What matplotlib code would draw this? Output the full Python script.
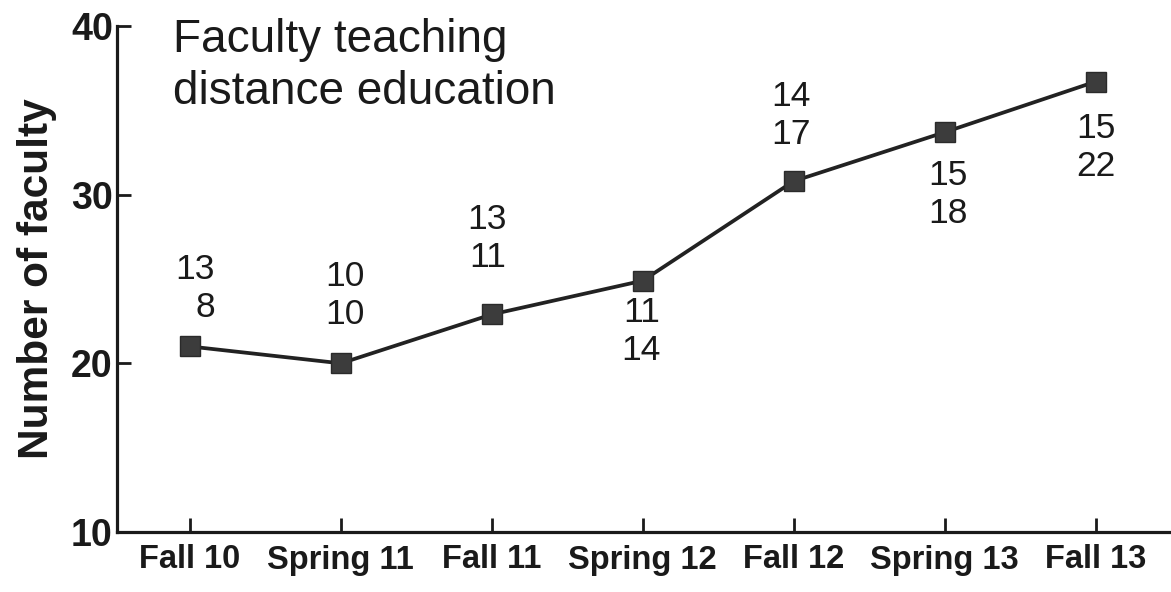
import matplotlib
matplotlib.use('Agg')
import matplotlib.pyplot as plt

plt.rcParams['font.family'] = ['Liberation Sans', 'DejaVu Sans']

terms = ['Fall 10', 'Spring 11', 'Fall 11', 'Spring 12', 'Fall 12', 'Spring 13', 'Fall 13']
faculty = [21, 20, 22.9, 24.9, 30.8, 33.7, 36.7]
top_numbers = [13, 10, 13, 11, 14, 15, 15]
bottom_numbers = [8, 10, 11, 14, 17, 18, 22]

# label offsets from each marker, in pixels (dx, dy up)
label_offsets = [(5, 58), (4, 68), (-5, 76), (-2, -51), (-3, 66), (3, -62), (0, -66)]

px = 0.72  # points per pixel at dpi 100

fig = plt.figure(figsize=(11.71, 5.92), dpi=100)
ax = fig.add_axes([117 / 1171, 60 / 592, 1 - 117 / 1171, 506 / 592])

x = list(range(len(terms)))
ax.plot(x, faculty, '-', color='#222222', linewidth=2.7, marker='s',
        markersize=15, markerfacecolor='#3c3c3c', markeredgecolor='#2a2a2a',
        clip_on=False, zorder=3)

for i, (t, b) in enumerate(zip(top_numbers, bottom_numbers)):
    dx, dy = label_offsets[i]
    ax.annotate(f'{t}\n{b}', (x[i], faculty[i]), xytext=(dx * px, dy * px),
                textcoords='offset points', ha='center', va='center',
                multialignment='right', fontsize=25.5, color='#1a1a1a',
                linespacing=1.2)

ax.set_xlim(-0.483, 6.5)
ax.set_ylim(10, 40)
ax.set_yticks([10, 20, 30, 40])
ax.set_xticks(x)
ax.set_xticklabels(terms)

for side in ['top', 'right']:
    ax.spines[side].set_visible(False)
for side in ['left', 'bottom']:
    ax.spines[side].set_linewidth(2.3)
    ax.spines[side].set_color('#1a1a1a')

ax.tick_params(axis='both', direction='in', length=10, width=2, color='#1a1a1a')
ax.tick_params(axis='y', pad=3, labelsize=27)
ax.tick_params(axis='x', pad=9, labelsize=23.5)
for lab in ax.get_xticklabels() + ax.get_yticklabels():
    lab.set_fontweight('bold')
    lab.set_color('#1a1a1a')

ax.set_ylabel('Number of faculty', fontsize=30.5, fontweight='bold',
              color='#1a1a1a', labelpad=10)

fig.text(173 / 1171, 1 - 18 / 592, 'Faculty teaching\ndistance education',
         ha='left', va='top', fontsize=33, color='#1a1a1a', linespacing=1.24)

fig.savefig('out.png', dpi=100)
